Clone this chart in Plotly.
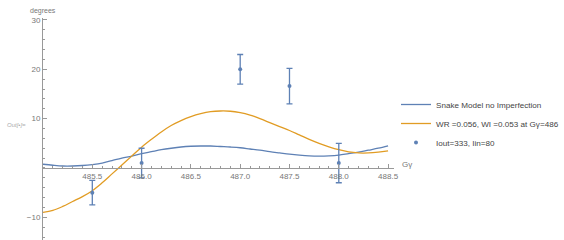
import plotly.graph_objects as go

# Data
x_curve = [485.0, 485.1, 485.2, 485.3, 485.4, 485.5, 485.6, 485.7, 485.8, 485.9,
           486.0, 486.1, 486.2, 486.3, 486.4, 486.5, 486.6, 486.7, 486.8, 486.9,
           487.0, 487.1, 487.2, 487.3, 487.4, 487.5, 487.6, 487.7, 487.8, 487.9,
           488.0, 488.1, 488.2, 488.3, 488.4, 488.5]
snake_no_imperf = [0.75, 0.55, 0.4, 0.4, 0.5, 0.7, 1.0, 1.5, 2.0, 2.4,
                   2.9, 3.3, 3.7, 4.0, 4.25, 4.4, 4.45, 4.45, 4.35, 4.25,
                   4.1, 3.85, 3.6, 3.3, 3.05, 2.8, 2.6, 2.45, 2.4, 2.45,
                   2.6, 2.9, 3.2, 3.6, 4.0, 4.5]
snake_wr_wi = [-9.0, -8.6, -7.8, -6.8, -5.8, -4.6, -3.0, -1.2, 0.6, 2.4,
               4.2, 5.8, 7.3, 8.6, 9.6, 10.4, 11.0, 11.4, 11.55, 11.5,
               11.2, 10.7, 10.0, 9.2, 8.4, 7.6, 6.7, 5.8, 5.0, 4.3,
               3.7, 3.25, 3.05, 3.05, 3.2, 3.45]
x_meas = [485.5, 486.0, 487.0, 487.5, 488.0]
y_meas = [-5.0, 1.0, 20.0, 16.6, 1.0]
err_meas = [2.5, 3.0, 3.0, 3.6, 4.0]

x_ticks = [485.5, 486.0, 486.5, 487.0, 487.5, 488.0, 488.5]
y_ticks = [-10, 10, 20, 30]

names = ["Snake Model no Imperfection", "WR =0.056, WI =0.053 at G\u03b3=486", "Iout=333, Iin=80"]

BLUE = "#5E81B5"
ORANGE = "#E19C24"
AXIS = "#999999"
LABEL = "#777777"
FONT = "Liberation Sans, Arial, sans-serif"

x_range = [485.0, 488.56]
y_range = [-14.6, 30.4]

W, H = 564, 240
fig = go.Figure()
fig.add_trace(go.Scatter(x=x_curve, y=snake_no_imperf, mode="lines", name=names[0],
                         line=dict(color=BLUE, width=1.3, shape="spline"), legendgroup="a"))
fig.add_trace(go.Scatter(x=x_curve, y=snake_wr_wi, mode="lines", name=names[1],
                         line=dict(color=ORANGE, width=1.3, shape="spline"), legendgroup="a"))
fig.add_trace(go.Scatter(x=x_meas, y=y_meas, mode="markers", name=names[2],
                         marker=dict(color=BLUE, size=4),
                         error_y=dict(type="data", array=err_meas, color=BLUE, thickness=1.3, width=3),
                         legendgroup="b"))

y0_frac = (0 - y_range[0]) / (y_range[1] - y_range[0]) * ((H - 18) / H)

fig.update_layout(
    width=W, height=H,
    margin=dict(l=0, r=0, t=0, b=0, autoexpand=False),
    paper_bgcolor="white", plot_bgcolor="white",
    font=dict(family=FONT, size=8, color=LABEL),
    xaxis=dict(domain=[43 / W, 394 / W], range=x_range, showgrid=False, zeroline=False,
               showline=True, linecolor=AXIS, linewidth=1, anchor="free", position=y0_frac,
               tickvals=x_ticks, ticktext=[f"{v:.1f}" for v in x_ticks],
               ticks="inside", ticklen=4, tickcolor=AXIS, tickfont=dict(size=8, color=LABEL),
               automargin=False,
               minor=dict(ticks="inside", ticklen=2, tick0=485.0, dtick=0.1, tickcolor=AXIS)),
    yaxis=dict(domain=[0, (H - 18) / H], range=y_range, showgrid=False, zeroline=False,
               showline=True, linecolor=AXIS, linewidth=1, automargin=False,
               tickvals=y_ticks, ticks="inside", ticklen=4, tickcolor=AXIS,
               tickfont=dict(size=8, color=LABEL),
               minor=dict(ticks="inside", ticklen=2, tick0=0, dtick=2, tickcolor=AXIS)),
    legend=dict(x=1, y=1 - 90 / H, xanchor="right", yanchor="top",
                font=dict(size=8.1, color="#444444", family=FONT),
                bgcolor="rgba(0,0,0,0)", tracegroupgap=0, itemwidth=30,
                traceorder="grouped", borderwidth=0),
    showlegend=True,
)

fig.add_annotation(x=43 / W, xref="paper", y=1 - 11 / H, yref="paper", text="degrees",
                   showarrow=False, font=dict(size=7, color=LABEL), xanchor="center", yanchor="middle")
fig.add_annotation(x=400 / W, xref="paper", y=0, yref="y", text="G\u03b3",
                   showarrow=False, font=dict(size=8, color=LABEL), xanchor="left", yshift=3)
fig.add_annotation(x=5 / W, xref="paper", y=1 - 125 / H, yref="paper", text="<i>Out[\u2022]=</i>",
                   showarrow=False, font=dict(size=6, color="#aaaaaa"), xanchor="left",
                   yanchor="middle")

fig.write_html("out.html", config={"displayModeBar": False},
               post_script="document.body.style.margin='0';document.body.style.padding='0';")
